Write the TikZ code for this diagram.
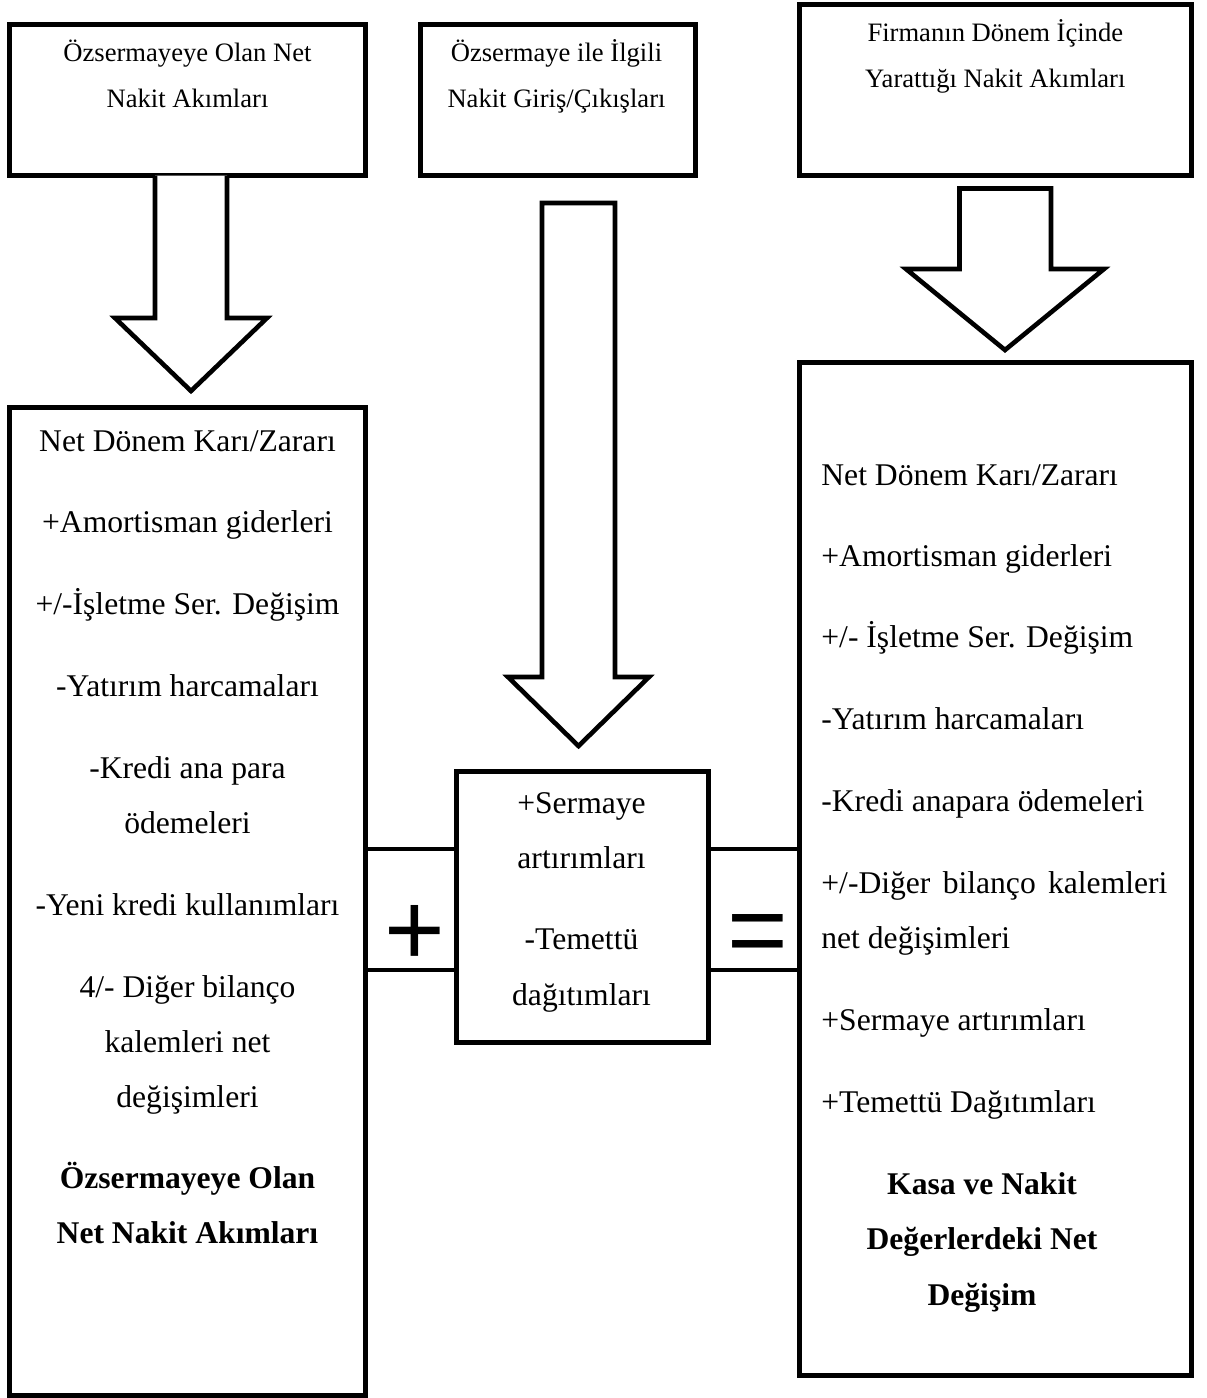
\documentclass[tikz,border=0pt]{standalone}
\usepackage{fontspec}
\setmainfont{Liberation Serif}
\newfontfamily\opsans{Liberation Sans}

\begin{document}
\begin{tikzpicture}[
    x=0.5pt, y=-0.5pt,
    frame/.style={draw,line width=2.5pt,inner sep=0pt},
    band/.style={draw,line width=2.1pt,inner sep=0pt,minimum height=60.5pt},
    blockarrow/.style={draw,line width=2.3pt,fill=white},
    toptxt/.style={inner sep=0pt,anchor=base,font=\fontsize{13.3}{16}\selectfont},
    txt/.style={inner sep=0pt,anchor=base,font=\fontsize{15.8}{19}\selectfont},
    txtl/.style={txt,anchor=base west},
    sumtxt/.style={txt,font=\fontsize{15.8}{19}\selectfont\bfseries},
    op/.style={inner sep=0pt,font=\opsans\fontsize{52}{52}\selectfont},
  ]
  \useasboundingbox (0,0) rectangle (1206,1398);

  % top row: the three source boxes
  \node[frame,minimum width=178pt,minimum height=75.5pt]   (top1) at (187.5,100) {};
  \node[frame,minimum width=137.5pt,minimum height=75.5pt] (top2) at (558,100) {};
  \node[frame,minimum width=196pt,minimum height=85.5pt]   (top3) at (995.5,90) {};

  \node[toptxt] (t1a) at (187.5,61)  {Özsermayeye Olan Net};
  \node[toptxt] (t1b) at (187.5,107.3) {Nakit Akımları};
  \node[toptxt] (t2a) at (556.5,61)  {Özsermaye ile İlgili};
  \node[toptxt] (t2b) at (556.5,107.3) {Nakit Giriş/Çıkışları};
  \node[toptxt] (t3a) at (995.3,41)  {Firmanın Dönem İçinde};
  \node[toptxt] (t3b) at (995.3,87.7) {Yarattığı Nakit Akımları};

  % lower row: the two statements and the box in between
  \node[frame,minimum width=178pt,minimum height=493.75pt] (low1) at (187.5,901.25) {};
  \node[frame,minimum width=125.75pt,minimum height=135.5pt] (mid) at (582.25,906.5) {};
  \node[frame,minimum width=196pt,minimum height=506.5pt]  (low3) at (995.5,869) {};

  % bands joining the boxes, with the operators
  \node[band,minimum width=45.5pt]  (plusband) at (411,909.5) {};
  \node[band,minimum width=45.75pt] (eqband)   at (753.75,909.5) {};
  \node[op] (plus) at (415,935) {+};
  \node[op] (eq)   at (757.5,940) {=};

  % --- block arrows ---
  \draw[blockarrow] (155,175.5) -- (155,318) -- (115,318) -- (191,391)
                    -- (267,318) -- (227,318) -- (227,175.5);
  \draw[blockarrow] (542,203) -- (542,677) -- (508,677) -- (578.5,746)
                    -- (649,677) -- (615,677) -- (615,203) -- cycle;
  \draw[blockarrow] (959.5,188.5) -- (959.5,269) -- (906,269) -- (1005,350)
                    -- (1104,269) -- (1051,269) -- (1051,188.5) -- cycle;

  % left statement
  \node[txt] (l1)  at (187.5,451.5)  {Net Dönem Karı/Zararı};
  \node[txt] (l2)  at (187.5,532.5)  {+Amortisman giderleri};
  \node[txt] (l3)  at (187.5,614)    {+/-İşletme Ser. Değişim};
  \node[txt] (l4)  at (187.5,696.5)  {-Yatırım harcamaları};
  \node[txt] (l5)  at (187.5,778.5)  {-Kredi ana para};
  \node[txt] (l6)  at (187.5,833.5)  {ödemeleri};
  \node[txt] (l7)  at (187.5,915.5)  {-Yeni kredi kullanımları};
  \node[txt] (l8)  at (187.5,997.5)  {4/- Diğer bilanço};
  \node[txt] (l9)  at (187.5,1052.5) {kalemleri net};
  \node[txt] (l10) at (187.5,1107.5) {değişimleri};
  \node[sumtxt] (l11) at (187.5,1188.5) {Özsermayeye Olan};
  \node[sumtxt] (l12) at (187.5,1243.5) {Net Nakit Akımları};

  % middle box
  \node[txt] (m1) at (581.5,813)   {+Sermaye};
  \node[txt] (m2) at (581.5,868.5) {artırımları};
  \node[txt] (m3) at (581.5,949.5) {-Temettü};
  \node[txt] (m4) at (581.5,1005)  {dağıtımları};

  % right statement
  \node[txtl] (r1)  at (821,485)  {Net Dönem Karı/Zararı};
  \node[txtl] (r2)  at (821,566)  {+Amortisman giderleri};
  \node[txtl] (r3)  at (821,647)  {+/- İşletme Ser. Değişim};
  \node[txtl] (r4)  at (821,729)  {-Yatırım harcamaları};
  \node[txtl] (r5)  at (821,811)  {-Kredi anapara ödemeleri};
  \node[txtl] (r6)  at (821,893)  {\makebox[173pt][s]{+/-Diğer bilanço kalemleri}};
  \node[txtl] (r7)  at (821,948)  {net değişimleri};
  \node[txtl] (r8)  at (821,1030) {+Sermaye artırımları};
  \node[txtl] (r9)  at (821,1112) {+Temettü Dağıtımları};
  \node[sumtxt] (r10) at (982,1194) {Kasa ve Nakit};
  \node[sumtxt] (r11) at (982,1249) {Değerlerdeki Net};
  \node[sumtxt] (r12) at (982,1305) {Değişim};

\end{tikzpicture}
\end{document}
